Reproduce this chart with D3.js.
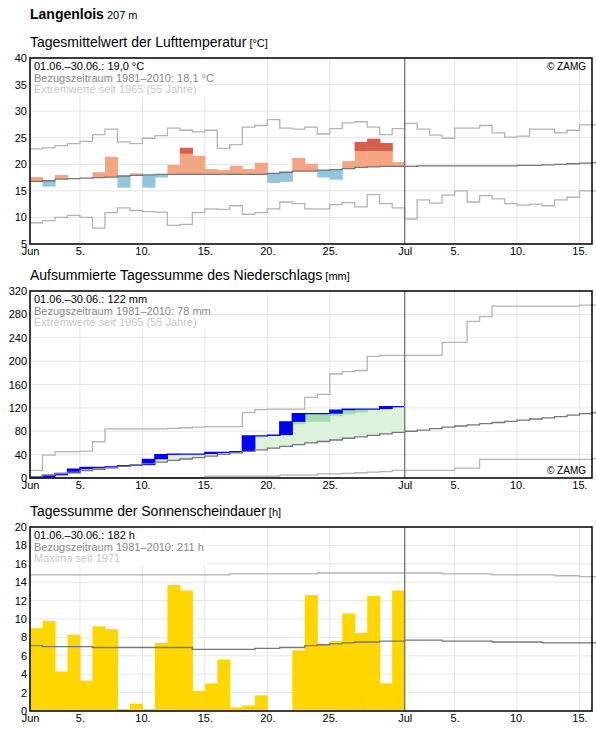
<!DOCTYPE html>
<html><head><meta charset="utf-8">
<script src="https://cdn.jsdelivr.net/npm/d3@7"></script>
<style>body{margin:0;background:#fff;font-family:"Liberation Sans",Arial,sans-serif}</style>
</head><body><div id="chart"></div>
<script>
// Tage: Index 0 = 1. Juni ... 29 = 30. Juni, 30.. = Juli
const tickDays = [0, 4, 9, 14, 19, 24, 30, 34, 39, 44];
const tickLabels = ['Jun', '5.', '10.', '15.', '20.', '25.', 'Jul', '5.', '10.', '15.'];

// Temperatur (°C)
const tempObs = [17.6,15.8,18.0,17.3,17.4,18.5,21.4,15.6,18.3,15.6,17.5,19.9,23.1,21.6,19.1,18.9,19.7,19.1,20.3,16.5,16.7,21.2,20.1,17.5,17.1,20.6,24.2,24.8,24.0,20.4];
const tempDark = [null,null,null,null,null,null,null,null,null,null,null,null,22.0,null,null,null,null,null,null,null,null,null,null,null,null,null,22.5,22.5,22.5,null];
const tempNorm = [16.8,16.9,17.2,17.3,17.4,17.5,17.6,17.8,17.9,18.0,18.1,18.1,18.1,18.1,18.1,18.1,18.1,18.1,18.1,18.3,18.5,18.7,18.7,18.9,19.0,19.2,19.4,19.5,19.6,19.6,
  19.6,19.7,19.7,19.7,19.7,19.7,19.7,19.7,19.7,19.8,19.8,19.9,20.0,20.1,20.2,20.3];
const tempMax = [22.9,23.1,23.5,23.9,24.3,25.6,26.6,24.2,23.9,24.9,25.4,26.8,26.4,26.1,26.4,23.0,23.7,27.0,27.3,28.4,26.8,26.6,27.0,25.7,26.7,27.8,28.0,27.0,25.6,26.7,
  27.7,26.6,25.5,24.9,26.8,26.8,27.3,25.9,25.1,25.3,26.6,26.6,25.9,26.4,27.4,27.4];
const tempMin = [9.0,9.4,10.0,10.4,10.0,8.0,10.9,11.8,11.3,11.1,11.0,8.5,8.7,10.9,11.6,11.5,12.2,10.6,10.9,11.6,12.9,12.6,11.6,11.6,12.4,12.8,12.0,14.3,12.6,11.8,
  9.7,13.3,12.7,14.2,15.0,12.9,14.1,13.5,12.6,12.3,12.5,12.2,13.3,13.8,15.0,15.0];

// Niederschlag kumuliert (mm)
const precObs = [0,4.5,8,15,18,18,19,21,22,32,40,41,41,41,44,44,45,72,72,73.5,96,110,110,110,116,118,118,118,122,122];
const precMid = [null,null,null,null,null,null,null,null,null,null,null,null,null,null,null,null,null,null,null,null,85,92,96,96,106,109,112,118,120,null];
const precNorm = [2.5,5,7.5,10,12.5,15,17.5,20,22,24.5,27,30,32.5,35,37.5,40.5,43,45.5,48,51,54,57,60,62.5,65,68,70.5,73,75.5,78,
  80,82,84.5,87,89,91,93,95,97,99,101,103,105,107.5,110,112];
const precMax = [13,39,45,45,46,62,84,84,84,84,84,85,86,87,88,88,88,112,117,118,118,118,138,143,178,182,184,208,210,210,
  210,210,210,232,232,268,276,294,294,294,294,294,294,294,296,296];
const precMin = [0,0,0,0,0,0,0,0,0,0,0,0,0,0,3,3,3,3,3,3,5,5,5,7,7,8,9,10,11,13,
  13,13,13,13,17,17,32,32,32,32,32,32,32,32,32,33];

// Sonnenscheindauer (h)
const sunObs = [9.0,9.8,4.3,8.3,3.3,9.2,8.9,0.2,0.8,0.2,7.4,13.7,13.1,2.2,3.0,5.6,0.4,0.6,1.7,0,0,6.6,12.6,7.2,7.6,10.6,8.5,12.5,3.0,13.1];
const sunNorm = [7.1,7.0,7.0,7.0,7.0,6.9,6.9,6.9,6.9,6.9,6.9,6.9,6.9,6.7,6.7,6.7,6.7,6.7,6.8,6.8,6.9,6.9,7.1,7.2,7.3,7.4,7.5,7.5,7.6,7.6,
  7.7,7.7,7.7,7.6,7.6,7.6,7.6,7.5,7.5,7.5,7.5,7.4,7.4,7.4,7.4,7.4];
const sunMax = [14.8,14.8,14.8,14.8,14.8,14.8,14.8,14.8,14.8,14.8,14.8,14.8,14.8,14.8,14.8,14.8,14.9,14.9,14.9,14.9,14.9,14.9,14.9,15.0,15.0,15.0,15.0,15.0,15.0,15.0,
  15.0,15.0,15.0,14.9,14.9,14.9,14.9,14.8,14.8,14.8,14.8,14.8,14.7,14.7,14.6,14.6];

const width = 596, height = 729;
const [ml, mr] = [30, 4];
const svg = d3.select('#chart').append('svg')
  .attr('width', width).attr('height', height)
  .style('font-family', '"Liberation Sans",Arial,sans-serif');

const x = d3.scaleLinear().domain([0, 45]).range([ml, width - mr]);
const bw = x(1) - x(0) + 0.6;

svg.append('text').attr('x', 30).attr('y', 19).attr('font-size', 14).attr('font-weight', 'bold')
  .text('Langenlois').append('tspan').attr('font-weight', 'normal').attr('font-size', 11).text(' 207 m');

function panel(top, bottom, title, unit, yMin, yMax, yStep) {
  svg.append('text').attr('x', 30).attr('y', top - 11).attr('font-size', 14).text(title)
    .append('tspan').attr('font-size', 11).text(' [' + unit + ']');
  const y = d3.scaleLinear().domain([yMin, yMax]).range([bottom, top]);
  const g = svg.append('g');
  // Raster
  g.selectAll('.gy').data(d3.range(yMin, yMax + 0.001, yStep)).enter().append('line')
    .attr('x1', x(0)).attr('x2', x(45)).attr('y1', d => y(d)).attr('y2', d => y(d))
    .attr('stroke', '#e6e6e6');
  g.selectAll('.gx').data(tickDays).enter().append('line')
    .attr('x1', d => x(d)).attr('x2', d => x(d)).attr('y1', top).attr('y2', bottom)
    .attr('stroke', '#e6e6e6');
  const ax = svg.append('g').attr('transform', `translate(0,${bottom})`)
    .call(d3.axisBottom(x).tickValues(tickDays).tickFormat((d, i) => tickLabels[i]).tickSize(0).tickPadding(3));
  ax.select('.domain').remove();
  ax.selectAll('text').attr('font-size', 11).attr('fill', '#000').attr('font-family', '"Liberation Sans",Arial,sans-serif');
  const ay = svg.append('g').attr('transform', `translate(${ml},0)`)
    .call(d3.axisLeft(y).tickValues(d3.range(yMin, yMax + 0.001, yStep)).tickSize(0).tickPadding(3));
  ay.select('.domain').remove();
  ay.selectAll('text').attr('font-size', 11).attr('fill', '#000').attr('font-family', '"Liberation Sans",Arial,sans-serif');
  return { g, y, top, bottom };
}

function step(vals) {
  const pts = vals.map((v, i) => [i, v]);
  pts.push([vals.length, vals[vals.length - 1]]);
  return pts;
}
function drawStep(p, vals, color) {
  const line = d3.line().x(d => x(d[0])).y(d => p.y(d[1])).curve(d3.curveStepAfter);
  p.g.append('path').attr('d', line(step(vals))).attr('fill', 'none').attr('stroke', color).attr('stroke-width', 1.3);
}
function legend(p, texts, zamg) {
  const colors = ['#000', '#888', '#c8c8c8'];
  p.g.append('rect').attr('x', x(0) + 2).attr('y', p.top + 2).attr('width', 175).attr('height', 36).attr('fill', '#fff');
  texts.forEach((t, i) => p.g.append('text').attr('x', x(0) + 4).attr('y', p.top + 12 + i * 11.5)
    .attr('font-size', 11).attr('fill', colors[i]).text(t));
  if (zamg) p.g.append('text').attr('x', x(45) - 6).attr('y', zamg === 'bottom' ? p.bottom - 4 : p.top + 12)
    .attr('text-anchor', 'end').attr('font-size', 10).text('© ZAMG');
}
function frame(p) {
  p.g.append('line').attr('x1', x(30)).attr('x2', x(30)).attr('y1', p.top).attr('y2', p.bottom)
    .attr('stroke', '#777').attr('stroke-width', 1.3);
  p.g.append('rect').attr('x', x(0)).attr('y', p.top).attr('width', x(45) - x(0)).attr('height', p.bottom - p.top)
    .attr('fill', 'none').attr('stroke', '#000').attr('stroke-width', 1.5);
}

// --- Temperatur ---
const pT = panel(58, 244, 'Tagesmittelwert der Lufttemperatur', '°C', 5, 40, 5);
pT.g.selectAll('.tb').data(tempObs).enter().append('rect')
  .attr('x', (d, i) => x(i)).attr('width', bw)
  .attr('y', (d, i) => pT.y(Math.max(d, tempNorm[i])))
  .attr('height', (d, i) => Math.abs(pT.y(d) - pT.y(tempNorm[i])))
  .attr('fill', (d, i) => d >= tempNorm[i] ? '#f4a582' : '#92c5de');
pT.g.selectAll('.td').data(tempObs.map((v, i) => [i, v, tempDark[i]])).enter().filter(d => d[2] != null).append('rect')
  .attr('x', d => x(d[0])).attr('width', bw)
  .attr('y', d => pT.y(d[1])).attr('height', d => pT.y(d[2]) - pT.y(d[1]))
  .attr('fill', '#d6604d');
drawStep(pT, tempMax, '#b4b4b4');
drawStep(pT, tempMin, '#b4b4b4');
drawStep(pT, tempNorm, '#777');
legend(pT, ['01.06.–30.06.: 19,0 °C', 'Bezugszeitraum 1981–2010: 18,1 °C', 'Extremwerte seit 1965 (55 Jahre)'], 'top');
frame(pT);

// --- Niederschlag ---
const pP = panel(291, 478, 'Aufsummierte Tagessumme des Niederschlags', 'mm', 0, 320, 40);
const areaG = d3.area().x(d => x(d[0])).y0(d => pP.y(d[2])).y1(d => pP.y(d[1])).curve(d3.curveStepAfter);
const greenPts = precObs.map((v, i) => [i, Math.max(v, precNorm[i]), precNorm[i]]);
greenPts.push([30, greenPts[29][1], greenPts[29][2]]);
pP.g.append('path').attr('d', areaG(greenPts)).attr('fill', '#dcf2dc');
pP.g.selectAll('.pm').data(precMid.map((v, i) => [i, v])).enter().filter(d => d[1] != null).append('rect')
  .attr('x', d => x(d[0])).attr('width', bw)
  .attr('y', d => pP.y(precObs[d[0]])).attr('height', d => pP.y(d[1]) - pP.y(precObs[d[0]]))
  .attr('fill', '#a5dcb4');
pP.g.selectAll('.pb').data(precObs).enter().append('rect')
  .attr('x', (d, i) => x(i)).attr('width', bw)
  .attr('y', d => pP.y(d))
  .attr('height', (d, i) => pP.y(i ? precObs[i - 1] : 0) - pP.y(d))
  .attr('fill', '#0000ff');
drawStep(pP, precObs, '#0000ff');
drawStep(pP, precMax, '#b4b4b4');
drawStep(pP, precMin, '#b4b4b4');
drawStep(pP, precNorm, '#777');
legend(pP, ['01.06.–30.06.: 122 mm', 'Bezugszeitraum 1981–2010: 78 mm', 'Extremwerte seit 1965 (55 Jahre)'], 'bottom');
frame(pP);

// --- Sonnenschein ---
const pS = panel(527, 711, 'Tagessumme der Sonnenscheindauer', 'h', 0, 20, 2);
pS.g.selectAll('.sb').data(sunObs).enter().append('rect')
  .attr('x', (d, i) => x(i)).attr('width', bw)
  .attr('y', d => pS.y(d)).attr('height', d => pS.y(0) - pS.y(d))
  .attr('fill', '#ffd700');
drawStep(pS, sunMax, '#b4b4b4');
drawStep(pS, sunNorm, '#777');
legend(pS, ['01.06.–30.06.: 182 h', 'Bezugszeitraum 1981–2010: 211 h', 'Maxima seit 1971'], null);
frame(pS);
</script></body></html>
